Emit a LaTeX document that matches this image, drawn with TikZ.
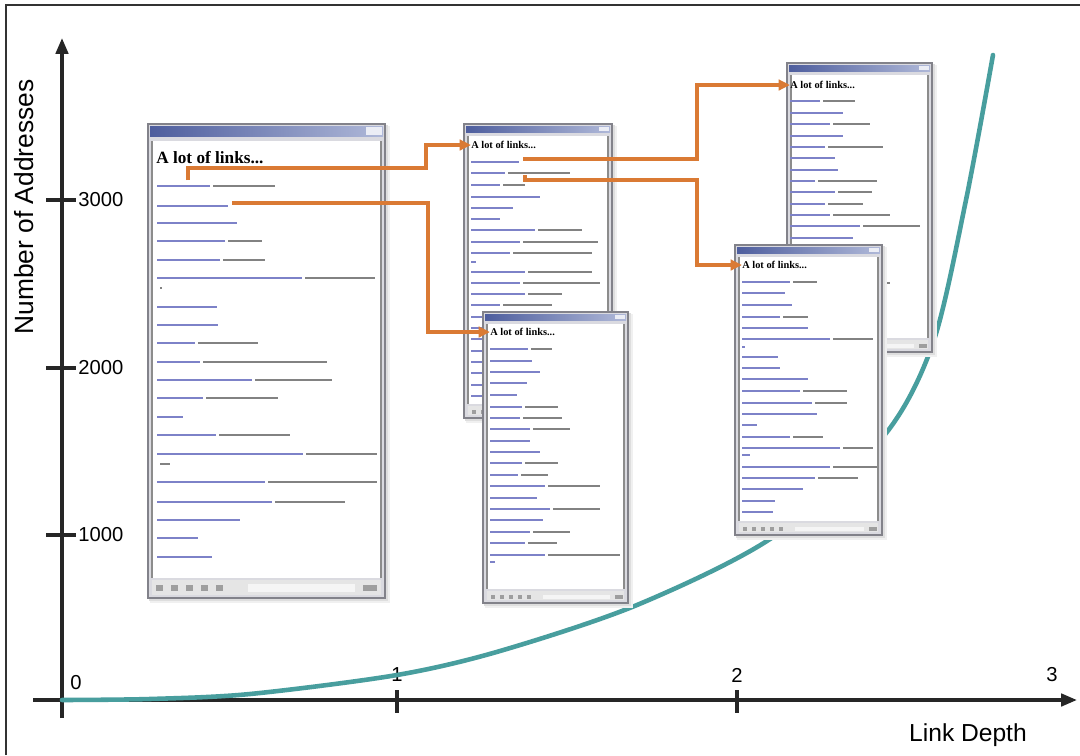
\documentclass[tikz,border=0pt]{standalone}
\usepackage{fontspec}
\setmainfont{Liberation Sans}
\newfontfamily\serifb{Liberation Serif}
\usetikzlibrary{arrows.meta}
\definecolor{orangec}{RGB}{218,122,52}
\definecolor{tealc}{RGB}{72,158,158}
\definecolor{tbL}{RGB}{78,94,158}
\definecolor{tbR}{RGB}{175,184,216}
\definecolor{framec}{RGB}{130,130,138}
\definecolor{winbg}{RGB}{218,218,224}
\definecolor{linkc}{RGB}{125,130,200}
\definecolor{txtc}{RGB}{130,130,130}
\tikzset{
  axisline/.style={line width=2pt, black!85},
  axlab/.style={font=\fontsize{11.5}{12}\selectfont, inner sep=0pt},
  curveline/.style={tealc, line width=2.6pt, line cap=round},
  conn/.style={orangec, line width=1.9pt, -{Triangle[length=6.5pt,width=6pt]}},
  bigtitle/.style={anchor=west, inner sep=0pt, font=\serifb\bfseries\fontsize{9.8}{10}\selectfont},
  smalltitle/.style={anchor=west, inner sep=0pt, font=\serifb\bfseries\fontsize{5.9}{6}\selectfont},
}
\newcommand\browser[5]{%
  \fill[black!6] (#1+2,#2+2) rectangle (#3+5,#4+5);
  \fill[black!13] (#1+1,#2+1) rectangle (#3+2.5,#4+2.5);
  \filldraw[fill=winbg, draw=framec, line width=1.1pt] (#1,#2) rectangle (#3,#4);
  \shade[left color=tbL, right color=tbR] (#1+2,#2+2) rectangle (#3-2,#2+2+10*#5);
  \fill[white!75!tbR] (#3-3-16*#5,#2+3) rectangle (#3-3,#2+1+10*#5);
  \fill[white] (#1+4,#2+5+12*#5) rectangle (#3-4,#4-4-16*#5);
  \draw[black!45, line width=0.7pt] (#1+4,#2+5+12*#5) -- (#1+4,#4-4-16*#5);
  \draw[black!45, line width=0.7pt] (#3-4,#2+5+12*#5) -- (#3-4,#4-4-16*#5);
  \fill[black!10] (#1+4,#4-3-15*#5) rectangle (#3-4,#4-3);
  \foreach \k in {0,...,4} {\fill[black!38] (#1+8+15*#5*\k,#4-13*#5) rectangle ++(7*#5,6*#5);}
  \fill[black!4] (#1+100*#5,#4-14*#5) rectangle (#3-30*#5,#4-6*#5);
  \fill[black!38] (#3-22*#5,#4-13*#5) rectangle (#3-8*#5,#4-7*#5);
}
\newcommand\linkrows[3]{%
  \foreach \yy/\bb/\ee in {#3} {
    \draw[linkc, line width=#2] (#1,\yy) -- (\bb,\yy);
    \ifnum\ee>\bb \draw[txtc, line width=#2] (\bb+3,\yy) -- (\ee,\yy);\fi
  }%
}
\begin{document}
\begin{tikzpicture}[x=0.02cm, y=-0.02cm]
\useasboundingbox (0,0) rectangle (1080,755);
\fill[white] (0,0) rectangle (1080,755);
% outer frame
\draw[line width=0.9pt, black!80] (6,755) -- (6,5) -- (1080,5);

% axes
\coordinate (ybot) at (62,718);
\coordinate (ytop) at (62,38);
\coordinate (xleft) at (33,700);
\coordinate (xright) at (1077,700);
\draw[axisline, -{Triangle[length=9pt,width=7pt]}] (ybot) -- (ytop);
\draw[axisline, -{Triangle[length=9pt,width=7pt]}] (xleft) -- (xright);
\foreach \xx in {397,737} {\draw[axisline] (\xx,690) -- (\xx,713);}
\foreach \yv in {200,368,535} {\draw[axisline] (46,\yv) -- (76,\yv);}
\node[axlab, anchor=west] (l3000) at (78,200) {3000};
\node[axlab, anchor=west] (l2000) at (78,368) {2000};
\node[axlab, anchor=west] (l1000) at (78,535) {1000};
\node[axlab] (d0) at (76,683) {0};
\node[axlab] (d1) at (397,675) {1};
\node[axlab] (d2) at (737,675) {2};
\node[axlab] (d3) at (1052,675) {3};
\node[font=\fontsize{14}{15}\selectfont, inner sep=0pt] (xlab) at (968,735) {Link Depth};
\node[font=\fontsize{15}{16}\selectfont, inner sep=0pt, rotate=90] (ylab) at (24,207) {Number of Addresses};

% growth curve
\draw[curveline] plot[smooth, tension=0.5] coordinates {(62,700) (150,699) (250,694) (397,675) (500,651) (637,605) (773,537) (883,437) (933,343) (966,200) (993,55)};

% window 1 (depth 0)
\browser{148}{124}{385}{598}{1}
\node[bigtitle] (t1) at (156,158) {A lot of links...};
\linkrows{157}{1.4pt}{186/210/275, 206/228/228, 223/237/237, 241/225/262, 260/220/265, 278/302/375, 288/157/162, 307/217/217, 325/218/218, 343/195/258, 362/200/327, 380/252/332, 398/203/278, 417/183/183, 435/216/290, 454/303/377, 464/157/170, 482/265/377, 502/272/345, 520/240/240, 538/198/198, 557/212/212}

% window 2 (depth 1, back)
\browser{464}{124}{612}{418}{0.6}
\node[smalltitle] (t2) at (471,145) {A lot of links...};
\linkrows{471}{0.9pt}{162/519/519, 173/505/570, 185/500/525, 197/540/540, 208/513/513, 219/500/500, 230/535/582, 242/520/598, 253/510/592, 262/476/476, 272/525/592, 283/520/600, 294/525/562, 305/500/552, 317/530/530, 328/520/580, 339/510/562, 351/500/572, 362/515/515, 373/505/560, 385/520/520, 396/500/540}

% window 3 (depth 1, front)
\browser{483}{312}{628}{603}{0.6}
\node[smalltitle] (t3) at (490,332) {A lot of links...};
\linkrows{490}{0.9pt}{349/528/552, 361/532/532, 372/540/540, 383/527/527, 395/517/517, 407/522/558, 418/520/562, 429/530/570, 441/530/530, 452/540/540, 463/522/558, 475/518/548, 486/545/600, 498/537/537, 509/550/600, 520/543/543, 532/530/570, 543/525/557, 555/545/620, 562/495/495}

% window 5 (depth 2, back)
\browser{787}{63}{932}{352}{0.6}
\node[smalltitle] (t5) at (790,85) {A lot of links...};
\linkrows{790}{0.9pt}{101/820/855, 113/843/843, 124/830/870, 136/843/843, 147/825/883, 158/835/835, 170/838/838, 181/815/877, 192/835/872, 204/825/863, 215/830/890, 226/860/920, 238/853/853, 249/830/870, 260/840/840, 272/820/860, 283/850/890, 294/835/835, 306/820/870, 317/840/840, 328/830/860}

% window 4 (depth 2, front)
\browser{735}{245}{882}{535}{0.6}
\node[smalltitle] (t4) at (742,265) {A lot of links...};
\linkrows{742}{0.9pt}{282/790/817, 293/785/785, 305/792/792, 317/780/808, 328/808/808, 339/830/873, 347/745/745, 357/778/778, 368/780/780, 379/808/808, 391/800/847, 403/812/847, 414/817/817, 425/757/757, 437/790/823, 448/840/873, 455/750/750, 467/830/877, 478/815/858, 489/803/803, 501/775/775, 512/773/773}

% connectors
\coordinate (l1) at (188,180);
\coordinate (k1) at (426,168);
\coordinate (l2) at (232,203);
\coordinate (k2) at (428,203);
\coordinate (l3) at (523,159);
\coordinate (k3) at (697,159);
\coordinate (l4) at (525,175);
\coordinate (k4) at (697,180);
\draw[conn] (l1) |- (k1) |- (t2.west);
\draw[conn] (l2) -- (k2) |- (t3.west);
\draw[conn] (l3) -- (k3) |- (t5.west);
\draw[conn] (l4) |- (k4) |- (t4.west);
\end{tikzpicture}
\end{document}
